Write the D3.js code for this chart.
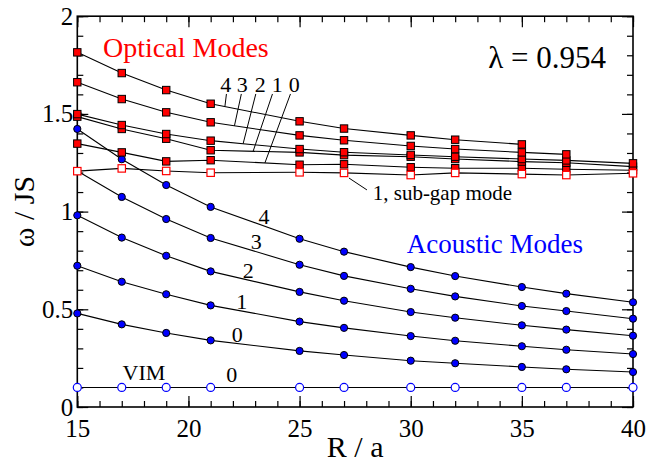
<!DOCTYPE html>
<html>
<head>
<meta charset="utf-8">
<script src="https://cdn.jsdelivr.net/npm/d3@7/dist/d3.min.js"></script>
</head>
<body style="margin:0">
<svg id="chart" width="662" height="462"></svg>
<script>
// Ring radius R/a at which the spectrum was computed
const R = [15, 17, 19, 21, 25, 27, 30, 32, 35, 37, 40];

// Acoustic branch, angular momentum 0..4 (omega / JS)
const acoustic0 = [0.479, 0.423, 0.379, 0.341, 0.287, 0.266, 0.237, 0.224, 0.205, 0.193, 0.179];
const acoustic1 = [0.723, 0.641, 0.577, 0.520, 0.437, 0.405, 0.363, 0.339, 0.311, 0.293, 0.271];
const acoustic2 = [0.981, 0.867, 0.774, 0.694, 0.589, 0.544, 0.486, 0.457, 0.418, 0.396, 0.365];
const acoustic3 = [1.208, 1.075, 0.962, 0.865, 0.728, 0.671, 0.605, 0.566, 0.517, 0.491, 0.452];
const acoustic4 = [1.423, 1.268, 1.136, 1.024, 0.861, 0.795, 0.716, 0.670, 0.614, 0.580, 0.536];
// Vortex instanton mode
const vim = [0.1, 0.1, 0.1, 0.1, 0.1, 0.1, 0.1, 0.1, 0.1, 0.1, 0.1];

// Optical branch, angular momentum 0..4 (higher modes stop before R = 40)
const optical0 = [1.348, 1.303, 1.257, 1.263, 1.240, 1.242, 1.227, 1.222, 1.222, 1.217, 1.212];
const optical1 = [1.486, 1.423, 1.373, 1.314, 1.303, 1.289, 1.281, 1.269, 1.256, 1.250, 1.230];
const optical2 = [1.499, 1.443, 1.397, 1.363, 1.320, 1.304, 1.290, 1.281, 1.269, 1.262, 1.247];
const optical3 = [1.662, 1.576, 1.508, 1.457, 1.390, 1.365, 1.336, 1.320, 1.303, 1.293];
const optical4 = [1.815, 1.709, 1.622, 1.552, 1.462, 1.425, 1.390, 1.368, 1.344];
// m = 1 sub-gap mode
const subGap = [1.207, 1.221, 1.208, 1.199, 1.201, 1.198, 1.187, 1.198, 1.192, 1.187, 1.196];

// Axis ticks
const xMajorTicks = [15, 20, 25, 30, 35, 40];
const xMinorTicks = d3.range(15, 41, 1);
const yMajorTicks = [0, 0.5, 1, 1.5, 2];
const yMinorTicks = d3.range(0, 2.001, 0.1).map(v => +v.toFixed(1));
const yTickLabels = ["0", "0.5", "1", "1.5", "2"];

// Mode labels: [text, R of label centre, omega of baseline]
const acousticLabels = [
  ["4", 23.40, 0.937], ["3", 23.05, 0.809], ["2", 22.69, 0.660],
  ["1", 22.40, 0.502], ["0", 22.20, 0.333], ["0", 21.95, 0.128]
];
// Optical labels with leader lines: [text, R of label, R of leader top, R where it meets its curve]
const opticalLabels = [
  ["4", 21.68, 21.71, 21.64],
  ["3", 22.42, 22.38, 22.07],
  ["2", 23.23, 23.03, 22.46],
  ["1", 24.00, 23.78, 22.91],
  ["0", 24.76, 24.59, 23.44]
];

const SERIF = "'Liberation Serif', 'Times New Roman', Times, serif";
const plot = { left: 77.3, right: 633, top: 16.2, bottom: 407 };

const svg = d3.select("#chart");
const x = d3.scaleLinear().domain([15, 40]).range([plot.left, plot.right]);
const y = d3.scaleLinear().domain([0, 2]).range([plot.bottom, plot.top]);

const toPts = vals => vals.map((v, i) => [R[i], v]);
const line = d3.line().x(d => x(d[0])).y(d => y(d[1]));

// value of a curve at an arbitrary R, linear between computed points
function valueAt(vals, r) {
  const pts = toPts(vals);
  for (let i = 0; i < pts.length - 1; i++) {
    if (r >= pts[i][0] && r <= pts[i + 1][0]) {
      const t = (r - pts[i][0]) / (pts[i + 1][0] - pts[i][0]);
      return pts[i][1] + t * (pts[i + 1][1] - pts[i][1]);
    }
  }
  return pts[pts.length - 1][1];
}

// serif text helper
function label(parent, str, px, py, size, opts = {}) {
  return parent.append("text")
    .attr("x", px).attr("y", py)
    .attr("text-anchor", opts.anchor || "start")
    .attr("fill", opts.fill || "#000")
    .attr("font-size", size)
    .style("font-family", SERIF)
    .text(str);
}

// ---- axes: ticks on all four sides, pointing inward ----
function styleAxis(g) {
  g.attr("font-family", null).attr("font-size", null);
  g.select(".domain").remove();
  g.selectAll(".tick line").attr("stroke", "#000").attr("stroke-width", 1.2);
  g.selectAll(".tick text").attr("fill", "#000").attr("font-size", 25)
    .style("font-family", SERIF);
}

svg.append("g").attr("transform", `translate(0,${plot.bottom})`)
  .call(d3.axisBottom(x).tickValues(xMinorTicks).tickSize(-6).tickFormat(""))
  .call(styleAxis);
svg.append("g").attr("transform", `translate(0,${plot.bottom})`)
  .call(d3.axisBottom(x).tickValues(xMajorTicks).tickSize(-11).tickPadding(12).tickFormat(d3.format("d")))
  .call(styleAxis);

svg.append("g").attr("transform", `translate(0,${plot.top})`)
  .call(d3.axisTop(x).tickValues(xMinorTicks).tickSize(-6).tickFormat(""))
  .call(styleAxis);
svg.append("g").attr("transform", `translate(0,${plot.top})`)
  .call(d3.axisTop(x).tickValues(xMajorTicks).tickSize(-11).tickFormat(""))
  .call(styleAxis);

svg.append("g").attr("transform", `translate(${plot.left},0)`)
  .call(d3.axisLeft(y).tickValues(yMinorTicks).tickSize(-6).tickFormat(""))
  .call(styleAxis);
svg.append("g").attr("transform", `translate(${plot.left},0)`)
  .call(d3.axisLeft(y).tickValues(yMajorTicks).tickSize(-11).tickPadding(4)
    .tickFormat((d, i) => yTickLabels[i]))
  .call(styleAxis);

svg.append("g").attr("transform", `translate(${plot.right},0)`)
  .call(d3.axisRight(y).tickValues(yMinorTicks).tickSize(-6).tickFormat(""))
  .call(styleAxis);
svg.append("g").attr("transform", `translate(${plot.right},0)`)
  .call(d3.axisRight(y).tickValues(yMajorTicks).tickSize(-11).tickFormat(""))
  .call(styleAxis);

// frame
svg.append("rect")
  .attr("x", plot.left).attr("y", plot.top)
  .attr("width", plot.right - plot.left).attr("height", plot.bottom - plot.top)
  .attr("fill", "none").attr("stroke", "#000").attr("stroke-width", 1.6);

// axis titles
label(svg, "R / a", (plot.left + plot.right) / 2, 457, 30, { anchor: "middle" });
label(svg, "ω / JS", 0, 0, 30, { anchor: "middle" })
  .attr("transform", `translate(34,${(plot.top + plot.bottom) / 2}) rotate(-90)`);

// ---- curves ----
const series = [
  acoustic0, acoustic1, acoustic2, acoustic3, acoustic4, vim,
  optical0, optical1, optical2, optical3, optical4, subGap
];
const curves = svg.append("g").attr("fill", "none").attr("stroke", "#000").attr("stroke-width", 1.1);
series.forEach(s => curves.append("path").attr("d", line(toPts(s))));

// ---- markers ----
const marks = svg.append("g");
// acoustic: filled blue circles
[acoustic0, acoustic1, acoustic2, acoustic3, acoustic4].forEach(s => {
  marks.append("g").selectAll("circle").data(toPts(s)).join("circle")
    .attr("cx", d => x(d[0])).attr("cy", d => y(d[1])).attr("r", 3.6)
    .attr("fill", "#0000ff").attr("stroke", "#000").attr("stroke-width", 1);
});
// VIM: open blue circles
marks.append("g").selectAll("circle").data(toPts(vim)).join("circle")
  .attr("cx", d => x(d[0])).attr("cy", d => y(d[1])).attr("r", 4)
  .attr("fill", "#fff").attr("stroke", "#0000ff").attr("stroke-width", 1.2);
// optical: filled red squares
const sq = 7.4;
[optical0, optical1, optical2, optical3, optical4].forEach(s => {
  marks.append("g").selectAll("rect").data(toPts(s)).join("rect")
    .attr("x", d => x(d[0]) - sq / 2).attr("y", d => y(d[1]) - sq / 2)
    .attr("width", sq).attr("height", sq)
    .attr("fill", "#ff0000").attr("stroke", "#000").attr("stroke-width", 1);
});
// sub-gap: open red squares
marks.append("g").selectAll("rect").data(toPts(subGap)).join("rect")
  .attr("x", d => x(d[0]) - sq / 2).attr("y", d => y(d[1]) - sq / 2)
  .attr("width", sq).attr("height", sq)
  .attr("fill", "#fff").attr("stroke", "#ff0000").attr("stroke-width", 1.2);

// ---- annotations ----
const ann = svg.append("g");
label(ann, "Optical Modes", x(16.16), y(1.791), 28, { fill: "#ff0000" });
label(ann, "Acoustic Modes", x(29.82), y(0.788), 27, { fill: "#0000ff" });
label(ann, "λ = 0.954", x(33.49), y(1.735), 31);

acousticLabels.forEach(([t, r, w]) => label(ann, t, x(r), y(w), 22, { anchor: "middle" }));
label(ann, "VIM", x(18.0), y(0.138), 22, { anchor: "middle" });

const opticalSeries = [optical4, optical3, optical2, optical1, optical0];
const labelBaseline = 1.612, leaderTop = 1.602;
opticalLabels.forEach(([t, r, rTop, rEnd], i) => {
  label(ann, t, x(r), y(labelBaseline), 22, { anchor: "middle" });
  ann.append("line")
    .attr("x1", x(rTop)).attr("y1", y(leaderTop))
    .attr("x2", x(rEnd)).attr("y2", y(valueAt(opticalSeries[i], rEnd)))
    .attr("stroke", "#000").attr("stroke-width", 1);
});

// sub-gap mode callout
ann.append("line")
  .attr("x1", x(27.22)).attr("y1", y(1.172))
  .attr("x2", x(28.03)).attr("y2", y(1.111))
  .attr("stroke", "#000").attr("stroke-width", 1);
label(ann, "1, sub-gap mode", x(28.29), y(1.059), 21);
</script>
</body>
</html>
